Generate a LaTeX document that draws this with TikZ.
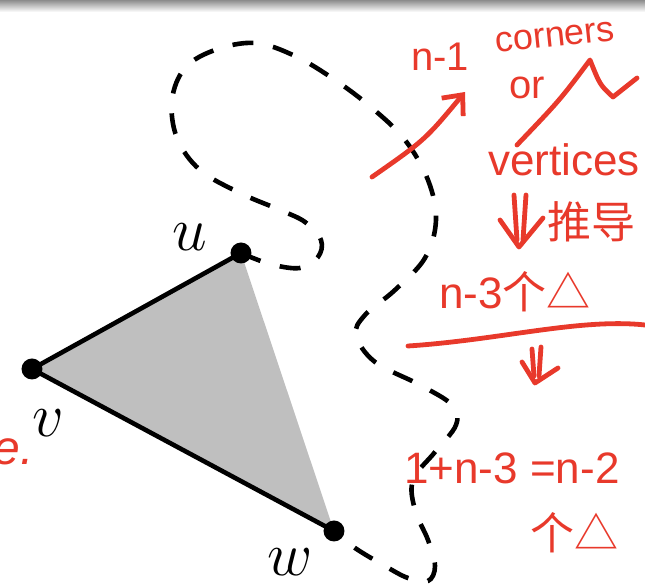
\documentclass[tikz,border=0pt]{standalone}
\usepackage{fontspec}
\usepackage{tikz}
\usetikzlibrary{arrows.meta, positioning, backgrounds}
\newfontfamily\handfont{Liberation Sans}
\newfontfamily\cjk{Noto Sans CJK SC}
\definecolor{hred}{HTML}{E8392B}
\definecolor{tgray}{HTML}{BFBFBF}
\tikzset{
  vdot/.style={circle, fill=black, inner sep=0pt, minimum size=10.5pt},
  lbl/.style={font=\Huge, scale=1.25, inner sep=0pt},
  edge/.style={line width=2.3pt, black, line join=round},
  loopline/.style={line width=2.3pt, black, dash pattern=on 10.5pt off 10pt},
  hand/.style={text=hred, inner sep=0pt, font=\handfont\fontsize{22}{24}\selectfont},
  pen/.style={line width=2.4pt, hred, line cap=round, line join=round},
}

\begin{document}
\begin{tikzpicture}[x=0.5pt, y=-0.5pt]
  \useasboundingbox (0,0) rectangle (645,588);
  \shade[top color=black!45, bottom color=white] (0,0) rectangle (645,12);

  % triangle corners
  \node[vdot] (u) at (241,253) {};
  \node[vdot] (v) at (32,369) {};
  \node[vdot] (w) at (334,531) {};
  \node[lbl] (ul) at (190,237) {$u$};
  \node[lbl] (vl) at (48,423) {$v$};
  \node[lbl] (wl) at (290,562) {$w$};

  \begin{scope}[on background layer]
    \fill[tgray] (u.center) -- (v.center) -- (w.center) -- cycle;
    \draw[edge] (u.center) -- (v.center) -- (w.center);
    \draw[loopline] plot[smooth, tension=0.6] coordinates {
      (u.center) (270,264) (300,268) (318,257) (321,240) (305,222) (280,210)
      (240,193) (200,170) (177,138) (172,100) (185,68) (215,50) (255,43)
      (295,56) (335,80) (372,108) (405,140) (428,180) (436,220) (425,258)
      (395,290) (365,315) (356,335) (375,362) (420,385) (452,405) (456,425)
      (435,452) (413,480) (415,510) (428,540) (435,566) (428,581) (408,578)
      (385,566) (355,548) (w.center)};
  \end{scope}

  % notes
  \node[hand, font=\handfont\fontsize{20}{22}\selectfont] (n1) at (440,57) {n-1};
  \node[hand, font=\handfont\fontsize{18}{20}\selectfont, rotate=6] (corners) at (555,37) {corners};
  \node[hand, font=\handfont\fontsize{20}{22}\selectfont] (or) at (527,88) {or};
  \node[hand] (vert) at (564,160) {vertices};
  \node[hand, font=\cjk\fontsize{22}{24}\selectfont] (tuidao) at (592,222) {推导};
  \node[hand] (cnt) at (515,292) {n-3{\cjk 个△}};
  \node[hand] (sum) at (512,468) {1+n-3 =n-2};
  \node[hand, font=\cjk\fontsize{22}{24}\selectfont] (cnt2) at (575,533) {个△};
  \node[hand, font=\handfont\itshape\fontsize{24}{26}\selectfont, anchor=east] (e) at (34,452) {e.};

  \coordinate (arrS) at (372,177);
  \coordinate (arrE) at (465,92);
  \draw[pen, -{Straight Barb[length=8pt, width=14pt]}] (arrS) .. controls (425,140) .. (arrE);
  \draw[pen] (517,145) .. controls (560,100) .. (590,60) .. controls (600,85) .. (613,97) -- (637,78);
  \draw[pen] (514,195) -- (517,240);
  \draw[pen] (526,195) -- (523,240);
  \draw[pen] (500,220) -- (519,247) -- (543,218);
  \draw[pen] (408,346) .. controls (500,340) and (580,318) .. (645,325);
  \draw[pen] (532,349) -- (534,376);
  \draw[pen] (541,347) -- (539,376);
  \draw[pen] (522,362) -- (535,383) -- (558,368);
\end{tikzpicture}
\end{document}
